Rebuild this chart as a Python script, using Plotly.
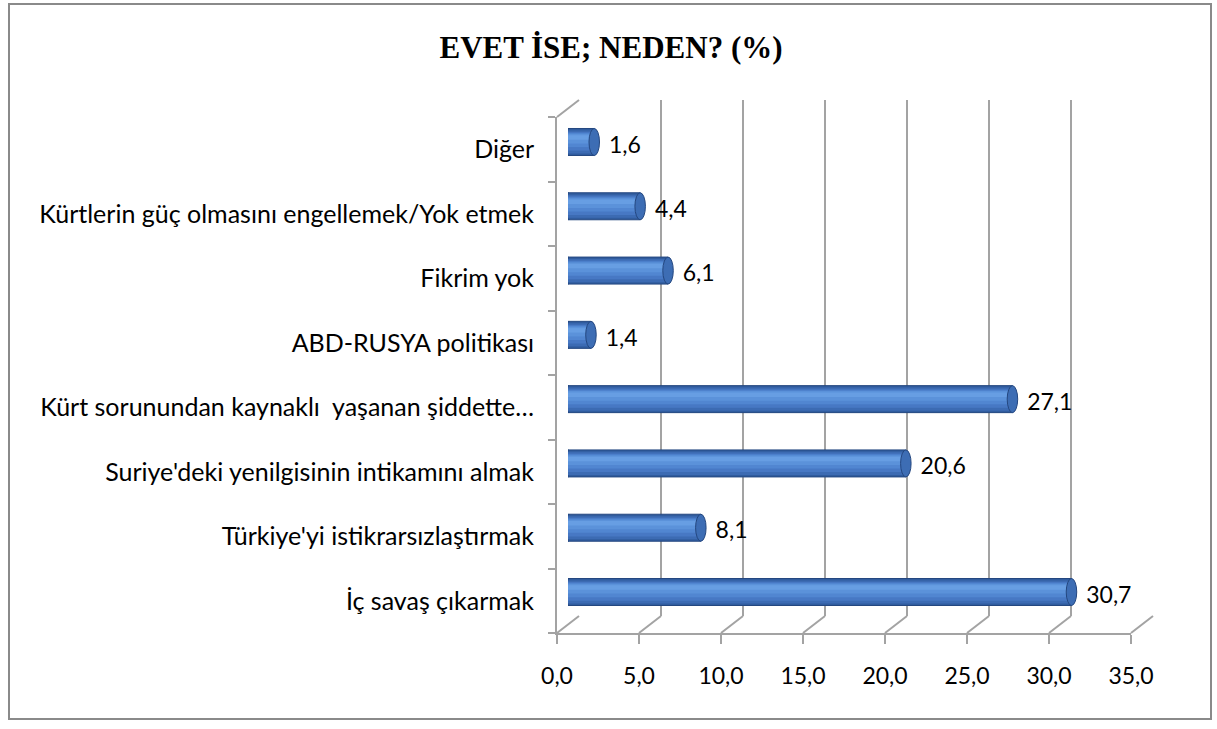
import plotly.graph_objects as go

# ---- data (top-to-bottom order as shown) ----
categories = [
    "Diğer",
    "Kürtlerin güç olmasını engellemek/Yok etmek",
    "Fikrim yok",
    "ABD-RUSYA politikası",
    "Kürt sorunundan kaynaklı  yaşanan şiddette…",
    "Suriye'deki yenilgisinin intikamını almak",
    "Türkiye'yi istikrarsızlaştırmak",
    "İç savaş çıkarmak",
]
values = [1.6, 4.4, 6.1, 1.4, 27.1, 20.6, 8.1, 30.7]
x_ticks = [0, 5, 10, 15, 20, 25, 30, 35]
title_text = "EVET İSE; NEDEN? (%)"

# plot bottom-to-top
cats_bt = categories[::-1]
vals_bt = values[::-1]
n = len(cats_bt)

W, H = 1217, 729
def px(x): return x / W
def py(y): return 1 - y / H

UNIT = 16.4
XMAX = 35
BACK_X0, MID_X0, FRONT_X0 = 579, 568, 557
BACK_TOP, BACK_BOT = 100, 616
FRONT_TOP, FRONT_BOT = 117, 633
GRID = "#A3A3A3"
FONT = "Lato"
FS_CAT = 25
FS_NUM = 23

fig = go.Figure()

# gridline host (invisible)
fig.add_trace(go.Scatter(x=[0], y=[cats_bt[0]], mode="none", xaxis="x", yaxis="y",
                         hoverinfo="skip", showlegend=False))

# cylinder bars built of layered bars
layers = [
    (0.42, 0.0, "#305C9E", "#244780", 1),
    (0.36, 0.0, "#3C6BB3", None, 0),
    (0.29, 0.01, "#4778C4", None, 0),
    (0.22, 0.03, "#5186D1", None, 0),
    (0.15, 0.05, "#5B92DA", None, 0),
    (0.07, 0.07, "#679EE3", None, 0),
]
for w, off, c, lc, lw in layers:
    fig.add_trace(go.Bar(
        y=cats_bt, x=vals_bt, orientation="h", width=w, offset=-w / 2 + off,
        marker=dict(color=c, line=dict(color=lc or c, width=lw)),
        xaxis="x2", yaxis="y", hoverinfo="skip", showlegend=False,
    ))

# data labels
fig.add_trace(go.Scatter(
    y=cats_bt, x=vals_bt, mode="markers+text", xaxis="x2", yaxis="y3",
    marker=dict(size=22, opacity=0), texttemplate="%{x:.1f}",
    textposition="middle right", textfont=dict(family=FONT, size=FS_NUM, color="black"),
    hoverinfo="skip", showlegend=False,
))
# host for the front axes
fig.add_trace(go.Scatter(y=[cats_bt[0]], x=[0], mode="none", xaxis="x3", yaxis="y2",
                         hoverinfo="skip", showlegend=False))

shapes = []
CAP = 0.32
for i, v in enumerate(vals_bt):
    shapes.append(dict(type="circle", xref="x2", yref="y", x0=v - CAP, x1=v + CAP,
                       y0=i - 0.21, y1=i + 0.21, fillcolor="#3D6DB4",
                       line=dict(color="#244780", width=1), layer="above"))
    shapes.append(dict(type="circle", xref="x2", yref="y", x0=-CAP, x1=CAP,
                       y0=i - 0.21, y1=i + 0.21, fillcolor="#305C9E",
                       line=dict(color="#244780", width=1), layer="between"))
# floor diagonals
for t in x_ticks:
    shapes.append(dict(type="line", xref="paper", yref="paper",
                       x0=px(BACK_X0 + t * UNIT), y0=py(BACK_BOT),
                       x1=px(FRONT_X0 + t * UNIT), y1=py(FRONT_BOT),
                       line=dict(color=GRID, width=2), layer="below"))
# left wall top diagonal
shapes.append(dict(type="line", xref="paper", yref="paper",
                   x0=px(FRONT_X0), y0=py(FRONT_TOP), x1=px(BACK_X0), y1=py(BACK_TOP),
                   line=dict(color=GRID, width=2), layer="below"))
# outer border
shapes.append(dict(type="rect", xref="paper", yref="paper",
                   x0=px(9), x1=px(1211), y0=py(719), y1=py(4),
                   line=dict(color="#8A8A8A", width=2), fillcolor="rgba(0,0,0,0)"))

sp = 64.3
bar_c0, bar_c7 = 592, 142
back_range = [-(BACK_BOT - bar_c0) / sp, (n - 1) + (bar_c7 - BACK_TOP) / sp]

fig.update_layout(
    width=W, height=H,
    margin=dict(l=0, r=0, t=0, b=0, pad=0, autoexpand=False),
    paper_bgcolor="white", plot_bgcolor="rgba(0,0,0,0)",
    separators=", ",
    barmode="overlay",
    font=dict(family=FONT, size=FS_NUM, color="black"),
    title=dict(text=title_text, x=px(611), y=py(47), xanchor="center", yanchor="middle",
               font=dict(family="Liberation Serif", size=31, color="black", weight="bold")),
    shapes=shapes,
    xaxis=dict(domain=[px(BACK_X0), px(BACK_X0 + XMAX * UNIT)], range=[0, XMAX],
               tickvals=x_ticks, showgrid=True, gridcolor=GRID, gridwidth=2,
               showticklabels=False, zeroline=False, showline=False, anchor="y",
               automargin=False),
    yaxis=dict(domain=[py(BACK_BOT), py(BACK_TOP)], type="category", categoryarray=cats_bt,
               range=back_range, showticklabels=False, showgrid=False, zeroline=False,
               anchor="x", automargin=False),
    yaxis3=dict(domain=[py(BACK_BOT + 5), py(BACK_TOP + 5)], type="category",
                categoryarray=cats_bt, range=back_range, visible=False, anchor="x2",
                automargin=False),
    xaxis2=dict(domain=[px(MID_X0), px(MID_X0 + XMAX * UNIT)], range=[0, XMAX],
                visible=False, anchor="y", automargin=False),
    xaxis3=dict(domain=[px(FRONT_X0), px(FRONT_X0 + XMAX * UNIT)], range=[0, XMAX],
                tickvals=x_ticks, tickformat=".1f", showgrid=False, zeroline=False,
                showline=True, linecolor=GRID, linewidth=2, ticks="outside", ticklen=9,
                tickwidth=2, tickcolor=GRID, anchor="y2", side="bottom",
                ticklabelstandoff=12, automargin=False,
                tickfont=dict(family=FONT, size=FS_NUM, color="black")),
    yaxis2=dict(domain=[py(FRONT_BOT), py(FRONT_TOP)], type="category", categoryarray=cats_bt,
                range=[-0.5, n - 0.5],
                showgrid=False, zeroline=False, showline=True, linecolor=GRID, linewidth=2,
                ticks="outside", ticklen=7, tickwidth=2, tickcolor=GRID, tickson="boundaries",
                ticklabelstandoff=16, anchor="x3", automargin=False,
                tickfont=dict(family=FONT, size=FS_CAT, color="black")),
)

fig.write_html(
    "out.html",
    config={"displayModeBar": False},
    post_script="document.body.style.margin='0';document.body.style.overflow='hidden';",
)
